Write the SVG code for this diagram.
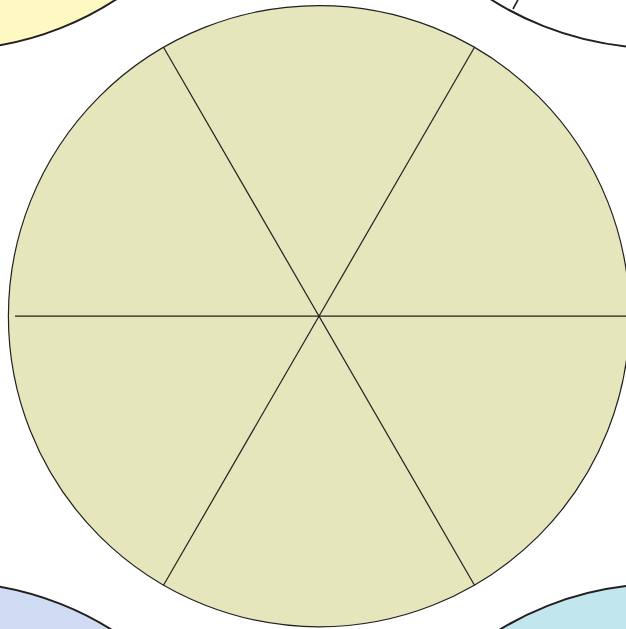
<svg xmlns="http://www.w3.org/2000/svg" width="626" height="629" viewBox="0 0 626 629">
<style>
.side{stroke:#231f20;stroke-width:2}
.main{fill:#e5e6bb;stroke:#231f20;stroke-width:1.2}
.spoke{stroke:#231f20;stroke-width:1.2;fill:none}
</style>
<rect width="626" height="629" fill="#ffffff"/>
<g id="circle-top-left"><circle class="side" cx="-54" cy="-261" r="311" fill="#fef9c3"/></g>
<g id="circle-top-right"><circle class="side" cx="658" cy="-263" r="311" fill="#ffffff"/></g>
<g id="circle-bottom-left"><circle class="side" cx="-54" cy="893" r="311" fill="#cfdcf3"/></g>
<g id="circle-bottom-right"><circle class="side" cx="662" cy="895" r="311" fill="#c2e6ee"/></g>
<g id="circle-main"><circle class="main" cx="319" cy="316.2" r="310.6"/></g>
<g id="connectors">
<line class="spoke" x1="15" y1="316.2" x2="630" y2="316.2"/>
<line class="spoke" x1="163.5" y1="47.2" x2="474.5" y2="585.2"/>
<line class="spoke" x1="474.5" y1="47.2" x2="163.5" y2="585.2"/>
<line class="spoke" style="stroke-width:1.6" x1="658" y1="-263" x2="513" y2="9"/>
</g>
</svg>
